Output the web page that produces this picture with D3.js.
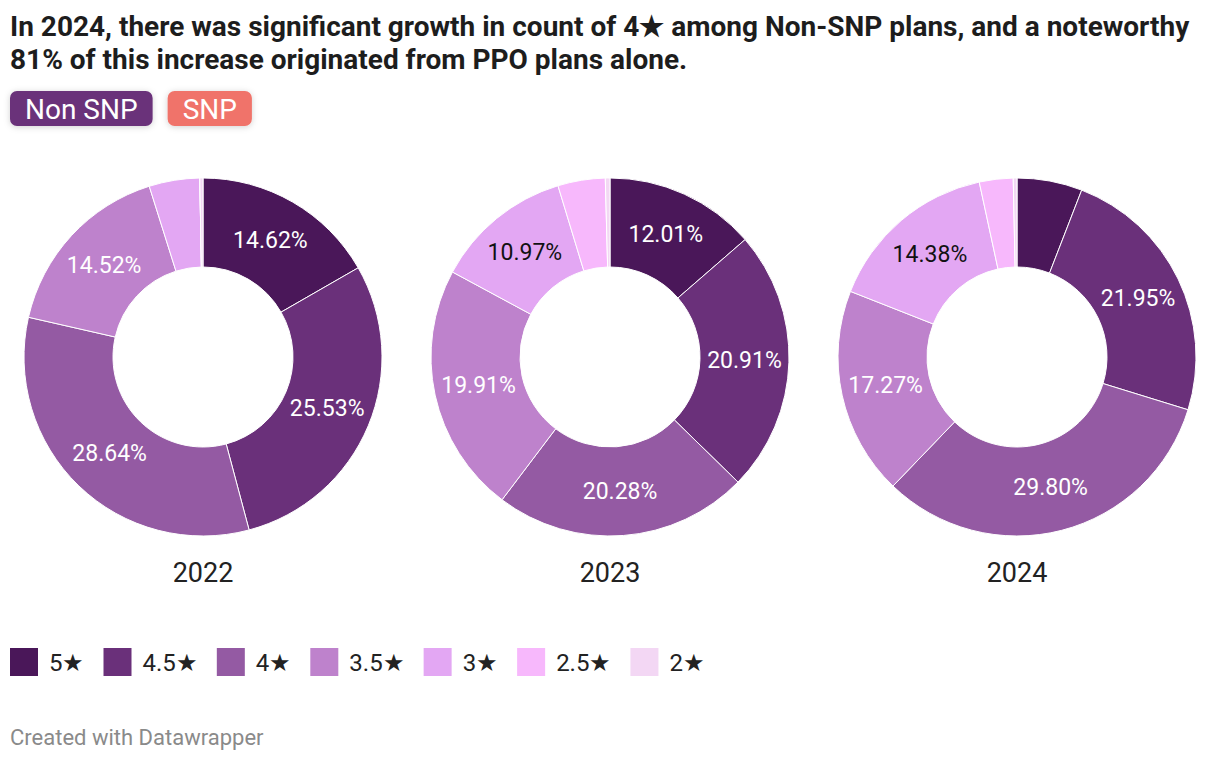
<!DOCTYPE html>
<html><head><meta charset="utf-8">
<script src="https://cdn.jsdelivr.net/npm/d3@7"></script>
<style>
body{margin:0;background:#fff;}
svg{display:block;font-family:Roboto,"Noto Sans",sans-serif;}
</style>
</head><body><svg id="chart" width="1220" height="760"></svg>
<script>
// ---- data ----
const years = ["2022", "2023", "2024"];
const categories = ["5★", "4.5★", "4★", "3.5★", "3★", "2.5★", "2★"];
const categoryColors = ["#4a1759", "#6a307a", "#945aa3", "#be82cc", "#e3a7f3", "#f7b8fc", "#f3d7f4"];
const values2022 = [14.62, 25.53, 28.64, 14.52, 4.00, 0, 0.25];
const values2023 = [12.01, 20.91, 20.28, 19.91, 10.97, 3.77, 0.37];
const values2024 = [5.41, 21.95, 29.80, 17.27, 14.38, 2.80, 0.31];
const seriesValues = [values2022, values2023, values2024];
const titleLines = [
  "In 2024, there was significant growth in count of 4★ among Non-SNP plans, and a noteworthy",
  "81% of this increase originated from PPO plans alone."
];
const toggleLabels = ["Non SNP", "SNP"];
const toggleColors = ["#6a307a", "#f0736a"];
const footerText = "Created with Datawrapper";

// ---- drawing ----
const svg = d3.select("#chart");
const defs = svg.append("defs");
const f = defs.append("filter").attr("id", "shadow").attr("x", "-20%").attr("y", "-30%").attr("width", "140%").attr("height", "170%");
f.append("feDropShadow").attr("dx", 0).attr("dy", 1).attr("stdDeviation", 3).attr("flood-color", "#000").attr("flood-opacity", 0.18);

// title
svg.append("g").selectAll("text").data(titleLines).join("text")
  .attr("x", 10).attr("y", (d, i) => 36 + i * 33)
  .attr("font-size", 28).attr("font-weight", 700).attr("fill", "#1d1d1d")
  .text(d => d);

// toggle buttons
const tg = svg.append("g");
let bx = 10;
toggleLabels.forEach((lab, i) => {
  const g = tg.append("g");
  const rect = g.append("rect").attr("y", 91).attr("height", 35).attr("rx", 7)
    .attr("fill", toggleColors[i]).attr("filter", "url(#shadow)");
  const t = g.append("text").attr("y", 109).attr("dominant-baseline", "central")
    .attr("font-size", 28).attr("fill", "#fff").text(lab);
  const w = t.node().getComputedTextLength();
  const pad = 15;
  rect.attr("x", bx).attr("width", w + pad * 2);
  t.attr("x", bx + pad);
  bx += w + pad * 2 + 15;
});

// donuts
const xScale = d3.scalePoint().domain(years).range([203, 1017]);
const cy = 357;
const rOuter = 179, rInner = 90;
const pie = d3.pie().sort(null).value(d => d);
const arc = d3.arc().innerRadius(rInner).outerRadius(rOuter);
const labelFmt = d3.format(".2f");

years.forEach((yr, yi) => {
  const g = svg.append("g").attr("transform", `translate(${xScale(yr)},${cy})`);
  const arcs = pie(seriesValues[yi]);
  g.selectAll("path").data(arcs).join("path")
    .attr("d", arc)
    .attr("fill", (d, i) => categoryColors[i])
    .attr("stroke", "#fff").attr("stroke-width", 1);
  g.selectAll("text").data(arcs.filter(d => d.data >= 7)).join("text")
    .attr("transform", d => `translate(${arc.centroid(d)})`)
    .attr("text-anchor", "middle").attr("dominant-baseline", "central")
    .attr("font-size", 23)
    .attr("fill", d => d.index === 4 ? "#111" : "#fff")
    .text(d => labelFmt(d.data) + "%");
  svg.append("text").attr("x", xScale(yr)).attr("y", 573)
    .attr("text-anchor", "middle").attr("dominant-baseline", "central")
    .attr("font-size", 27).attr("fill", "#222").text(yr);
});

// legend
const lg = svg.append("g");
let lx = 10;
categories.forEach((c, i) => {
  lg.append("rect").attr("x", lx).attr("y", 648).attr("width", 28).attr("height", 28)
    .attr("fill", categoryColors[i]);
  const t = lg.append("text").attr("x", lx + 39).attr("y", 663)
    .attr("dominant-baseline", "central").attr("font-size", 24).attr("fill", "#222").text(c);
  lx += 39 + t.node().getComputedTextLength() + 19;
});

// footer
svg.append("text").attr("x", 10).attr("y", 737).attr("dominant-baseline", "central")
  .attr("font-size", 22).attr("fill", "#8a8a8a").text(footerText);
</script>
</body></html>
